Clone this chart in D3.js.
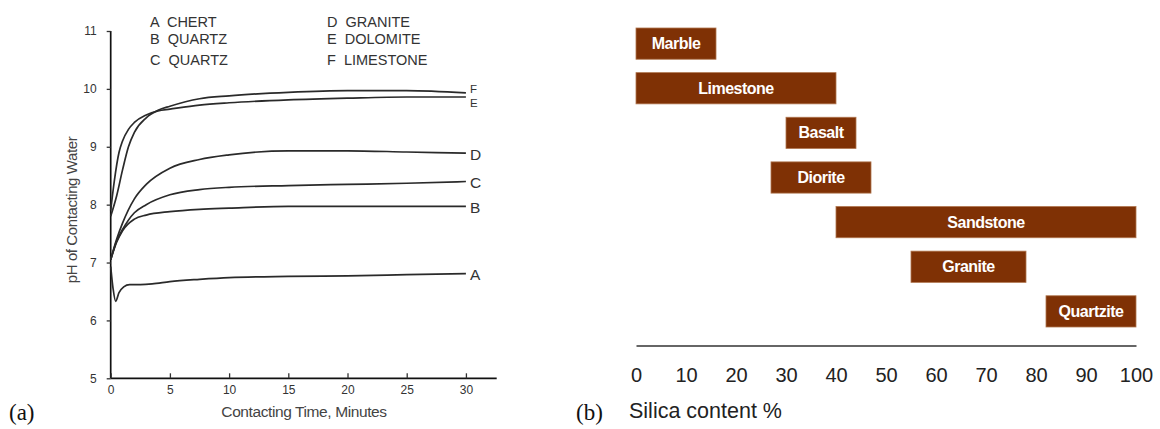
<!DOCTYPE html>
<html>
<head>
<meta charset="utf-8">
<script src="https://cdn.jsdelivr.net/npm/d3@7/dist/d3.min.js"></script>
<style>
  body { margin: 0; background: #fff; }
  svg { display: block; }
</style>
</head>
<body>
<svg id="chart" width="1160" height="429"></svg>
<script>
// ---- panel (a): pH of contacting water vs time ----
const rockLetters = ["A", "B", "C", "D", "E", "F"];
const rockNames = ["CHERT", "QUARTZ", "QUARTZ", "GRANITE", "DOLOMITE", "LIMESTONE"];

const timeA = [0, 0.2, 0.42, 0.7, 1.1, 1.6, 2.5, 3.5, 5, 7.5, 10, 15, 20, 25, 30];
const phA   = [6.93, 6.55, 6.33, 6.48, 6.58, 6.62, 6.62, 6.63, 6.67, 6.71, 6.74, 6.76, 6.77, 6.79, 6.81];
const timeB = [0, 0.5, 1, 2, 3, 5, 7.5, 10, 15, 20, 25, 30];
const phB   = [7.05, 7.35, 7.55, 7.75, 7.82, 7.88, 7.92, 7.94, 7.97, 7.97, 7.97, 7.97];
const timeC = [0, 0.5, 1, 2, 3, 5, 7.5, 10, 15, 20, 25, 30];
const phC   = [7.05, 7.37, 7.57, 7.86, 8.0, 8.17, 8.26, 8.3, 8.33, 8.35, 8.37, 8.4];
const timeD = [0, 0.5, 1, 2, 3, 5, 7.5, 10, 15, 20, 25, 30];
const phD   = [7.05, 7.4, 7.68, 8.1, 8.35, 8.63, 8.78, 8.86, 8.93, 8.93, 8.91, 8.89];
const timeE = [0, 0.3, 0.7, 1, 1.5, 2, 3, 4, 5, 7.5, 10, 15, 20, 25, 30];
const phE   = [7.9, 8.4, 8.9, 9.1, 9.3, 9.42, 9.55, 9.62, 9.65, 9.72, 9.76, 9.81, 9.84, 9.86, 9.86];
const timeF = [0, 0.5, 1, 1.5, 2, 3, 4, 5, 7.5, 10, 15, 20, 25, 30];
const phF   = [7.8, 8.15, 8.6, 9.0, 9.25, 9.5, 9.63, 9.7, 9.83, 9.88, 9.94, 9.97, 9.97, 9.93];

const timeTicks = [0, 5, 10, 15, 20, 25, 30];
const phTicks = [5, 6, 7, 8, 9, 10, 11];

// ---- panel (b): silica content ranges ----
const rocks = ["Marble", "Limestone", "Basalt", "Diorite", "Sandstone", "Granite", "Quartzite"];
const silicaLow  = [0, 0, 30, 27, 40, 55, 82];
const silicaHigh = [16, 40, 44, 47, 100, 78, 100];
const silicaTicks = [0, 10, 20, 30, 40, 50, 60, 70, 80, 90, 100];

const svg = d3.select("#chart");
const sans = "Liberation Sans, Arial, sans-serif";

// ======== panel (a) ========
const curves = [
    {letter: "A", t: timeA, v: phA},
    {letter: "B", t: timeB, v: phB},
    {letter: "C", t: timeC, v: phC},
    {letter: "D", t: timeD, v: phD},
    {letter: "E", t: timeE, v: phE},
    {letter: "F", t: timeF, v: phF}
];

let x = d3.scaleLinear().domain([0, 32.6]).range([110.7, 496.7]);
let y = d3.scaleLinear().domain([5, 11]).range([378.3, 31]);

let gA = svg.append("g");

let yAxis = d3.axisLeft(y).tickValues(phTicks).tickSize(4).tickPadding(10).tickFormat(d3.format("d"));
gA.append("g")
    .attr("transform", "translate(" + x(0) + ",0)")
    .call(yAxis)
    .call(g => g.select(".domain").attr("d", "M0," + y(11) + "V" + y(5)));

let xAxis = d3.axisBottom(x).tickValues(timeTicks).tickSize(-5).tickPadding(7);
gA.append("g")
    .attr("transform", "translate(0," + y(5) + ")")
    .call(xAxis)
    .call(g => g.select(".domain").attr("d", "M" + x(0) + ",0H" + x(32.6)));

gA.selectAll(".tick text")
    .attr("font-family", sans)
    .attr("font-size", 12)
    .attr("fill", "#333");
gA.selectAll(".domain").attr("stroke", "#111").attr("stroke-width", 1.7);
gA.selectAll(".tick line").attr("stroke", "#333").attr("stroke-width", 1.3);

let line = d3.line()
    .x(d => x(d[0]))
    .y(d => y(d[1]))
    .curve(d3.curveMonotoneX);

gA.selectAll(".curve")
    .data(curves)
    .join("path")
    .attr("class", "curve")
    .attr("d", c => line(c.t.map((t, i) => [t, c.v[i]])))
    .attr("fill", "none")
    .attr("stroke", "#2a2a2a")
    .attr("stroke-width", 1.7);

// letters at the end of each curve
gA.selectAll(".endlabel")
    .data(curves)
    .join("text")
    .attr("class", "endlabel")
    .attr("x", 470)
    .attr("y", c => {
        let yy = y(c.v[c.v.length - 1]);
        if (c.letter === "F") return yy - 4;
        if (c.letter === "E") return yy + 6;
        return yy + 1;
    })
    .attr("dy", "0.36em")
    .attr("font-family", sans)
    .attr("font-size", c => (c.letter === "E" || c.letter === "F") ? 11.5 : 15.5)
    .attr("fill", "#333")
    .text(c => c.letter);

// legend
let legendRows = [26.5, 44, 65];
gA.selectAll(".legend")
    .data(rockLetters)
    .join("text")
    .attr("class", "legend")
    .attr("x", (d, i) => i < 3 ? 150 : 327)
    .attr("y", (d, i) => legendRows[i % 3])
    .attr("font-family", sans)
    .attr("font-size", 14.5)
    .attr("fill", "#333")
    .attr("xml:space", "preserve")
    .text((d, i) => d + "  " + rockNames[i]);

gA.append("text")
    .attr("x", 304)
    .attr("y", 417)
    .attr("text-anchor", "middle")
    .attr("font-family", sans)
    .attr("font-size", 15.5)
    .attr("fill", "#444")
    .attr("letter-spacing", -0.4)
    .text("Contacting Time, Minutes");

gA.append("text")
    .attr("transform", "translate(77,210) rotate(-90)")
    .attr("text-anchor", "middle")
    .attr("font-family", sans)
    .attr("font-size", 15)
    .attr("fill", "#444")
    .attr("letter-spacing", -0.4)
    .text("pH of Contacting Water");

gA.append("text")
    .attr("x", 9)
    .attr("y", 420)
    .attr("font-family", "Liberation Serif, Times New Roman, serif")
    .attr("font-size", 23)
    .attr("fill", "#111")
    .text("(a)");

// ======== panel (b) ========
let xs = d3.scaleLinear().domain([0, 100]).range([636, 1136]);
let ys = d3.scaleBand().domain(rocks).range([28, 327]).paddingInner(0.3).paddingOuter(0);

let gB = svg.append("g");

gB.selectAll(".bar")
    .data(rocks)
    .join("rect")
    .attr("class", "bar")
    .attr("x", (d, i) => xs(silicaLow[i]))
    .attr("y", d => ys(d))
    .attr("width", (d, i) => xs(silicaHigh[i]) - xs(silicaLow[i]))
    .attr("height", ys.bandwidth())
    .attr("fill", "#7f3105")
    .attr("stroke", "#b0764f")
    .attr("stroke-width", 0.8);

gB.selectAll(".barlabel")
    .data(rocks)
    .join("text")
    .attr("class", "barlabel")
    .attr("x", (d, i) => (xs(silicaLow[i]) + xs(silicaHigh[i])) / 2)
    .attr("y", d => ys(d) + ys.bandwidth() / 2)
    .attr("dy", "0.35em")
    .attr("text-anchor", "middle")
    .attr("font-family", sans)
    .attr("font-weight", "bold")
    .attr("font-size", 16)
    .attr("letter-spacing", -0.5)
    .attr("fill", "#fff")
    .text(d => d);

let sAxis = d3.axisBottom(xs).tickValues(silicaTicks).tickSize(0).tickPadding(22);
gB.append("g")
    .attr("transform", "translate(0,345.5)")
    .call(sAxis)
    .call(g => g.select(".domain").attr("stroke", "#333").attr("stroke-width", 1.5))
    .call(g => g.selectAll(".tick text")
        .attr("font-family", sans)
        .attr("font-size", 20)
        .attr("fill", "#222"));

gB.append("text")
    .attr("x", 629)
    .attr("y", 418)
    .attr("font-family", sans)
    .attr("font-size", 21.5)
    .attr("fill", "#222")
    .text("Silica content %");

gB.append("text")
    .attr("x", 576)
    .attr("y", 420)
    .attr("font-family", "Liberation Serif, Times New Roman, serif")
    .attr("font-size", 23)
    .attr("fill", "#111")
    .text("(b)");
</script>
</body>
</html>
